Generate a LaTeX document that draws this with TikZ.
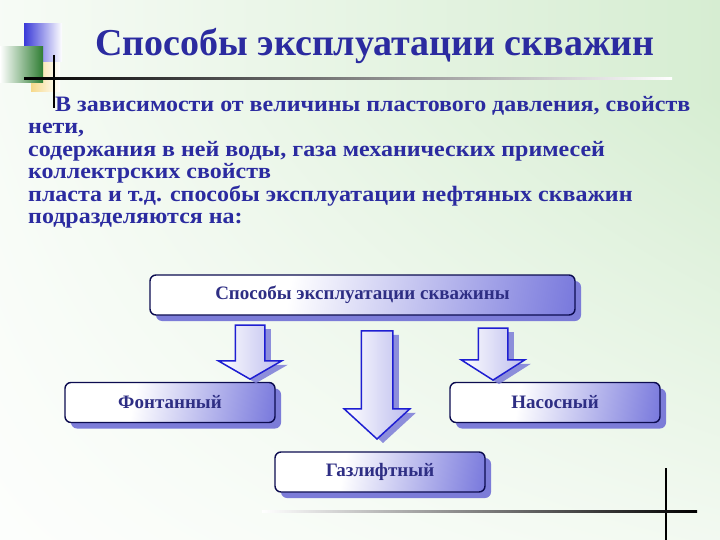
\documentclass[tikz,border=0pt]{standalone}
\usepackage{fontspec}
\setmainfont{Liberation Serif}
\newfontfamily\widefont[FakeStretch=1.09]{Liberation Serif}
\usetikzlibrary{shapes.arrows, shadows}
\definecolor{titleblue}{HTML}{2B2BA0}
\definecolor{boxtext}{HTML}{2E2E84}
\definecolor{boxline}{HTML}{0C0C50}
\definecolor{boxblue}{HTML}{3030CA}
\definecolor{shadowblue}{HTML}{7C7CD8}
\definecolor{arrowline}{HTML}{1E1ED2}
\definecolor{arrowfill}{HTML}{BCBCEE}
\definecolor{decoblue}{HTML}{3A3AD8}
\definecolor{decogreen}{HTML}{2E7D32}
\definecolor{decoyellow}{HTML}{F6D98A}
\pgfdeclarehorizontalshading{boxfade}{100bp}{color(0bp)=(white); color(40bp)=(white); color(100bp)=(boxblue)}
\pgfdeclarefunctionalshading{slidebg}{\pgfpoint{0bp}{0bp}}{\pgfpoint{100bp}{100bp}}{}{
  100 div 0.06 sub 0.6 div dup 0 lt {pop 0} if dup 1 gt {pop 1} if
  exch 100 div 0.12 sub 0.88 div dup 0 lt {pop 0} if mul
  dup 0.224 mul 1 exch sub exch
  dup 0.098 mul 1 exch sub exch
  0.247 mul 1 exch sub
}

\begin{document}
\begin{tikzpicture}[x=1pt, y=-1pt,
  waybox/.style={rectangle, rounded corners=6pt, draw=boxline, line width=1.4pt, shading=boxfade, shading angle=-10,
    minimum width=210pt, minimum height=40pt, text=boxtext, font=\fontsize{19}{22}\selectfont\bfseries,
    drop shadow={fill=shadowblue, opacity=1, shadow xshift=6pt, shadow yshift=-6pt}},
  downarrow/.style={single arrow, shape border rotate=270, anchor=tip, draw=arrowline, line width=1.5pt, inner sep=14pt,
    left color=white, right color=arrowfill, minimum width=62pt, single arrow head extend=17pt,
    drop shadow={fill=shadowblue, opacity=0.85, shadow xshift=6pt, shadow yshift=-4pt}},
]
\useasboundingbox (0,0) rectangle (720,540);
\shade[shading=slidebg] (0,0) rectangle (720,540);
\shade[left color=decoyellow, right color=white] (31,62) rectangle (60,92);
\shade[left color=decoblue, right color=white] (24,24) rectangle (62,62);
\shade[left color=white, right color=decogreen] (0,47) rectangle (43,83);
\draw[line width=1.5pt] (54,55) -- (54,108);
\shade[left color=black, right color=white] (24,78) rectangle (672,80);
\draw[line width=1.5pt] (666,468) -- (666,540);
\shade[left color=white, right color=black] (262,510) rectangle (697,512);
\node[text=titleblue, font=\fontsize{38}{40}\selectfont\bfseries] (title) at (375,46) {Способы эксплуатации скважин};
\node[anchor=north west, align=left, inner sep=0pt, text=titleblue, font=\widefont\fontsize{22}{22.5}\selectfont\bfseries] (intro) at (28,96)
  {\hspace*{27pt}В зависимости от величины пластового давления, свойств\\нети,\\содержания в ней воды, газа механических примесей\\коллектрских свойств\\пласта и т.д. способы эксплуатации нефтяных скважин\\подразделяются на:};
\node[waybox, minimum width=425pt] (ways) at (362.5,295) {Способы эксплуатации скважины};
\node[waybox] (fount) at (170,402.5) {Фонтанный};
\node[waybox] (pump) at (555,402.5) {Насосный};
\node[waybox] (gaslift) at (380,472) {Газлифтный};
\node[downarrow, minimum height=54pt, single arrow tip angle=120] (toFount) at (250,380) {};
\node[downarrow, minimum height=108pt, single arrow tip angle=95, inner sep=15pt] (toGaslift) at (377,440) {};
\node[downarrow, minimum height=52pt, single arrow tip angle=115] (toPump) at (493,381) {};
\end{tikzpicture}
\end{document}
